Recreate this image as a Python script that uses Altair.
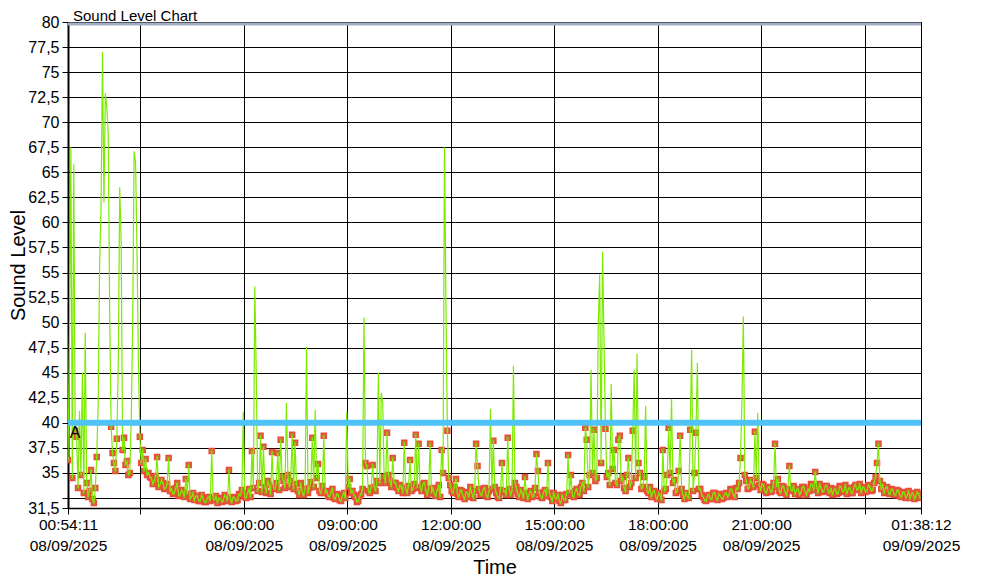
import pandas as pd
import altair as alt

# Sound level readings, one every 2.5 minutes from 08/09/2025 00:54:11
start_time = "2025-09-08 00:54:11"
sample_seconds = 150
levels = [
    36.3, 48.0, 67.5, 34.5, 65.8, 39.2, 38.6, 33.5, 41.2, 34.8, 45.0, 33.0, 49.0, 34.0, 32.6, 33.2, 35.3, 32.4, 32.0, 33.5, 36.6, 42.0, 55.8, 61.5,
    77.0, 62.0, 72.9, 71.5, 68.9, 51.0, 39.6, 37.0, 36.0, 35.2, 38.4, 46.0, 63.5, 58.0, 37.3, 38.5, 35.8, 36.2, 34.8, 35.0, 40.2, 49.7, 67.1, 66.0,
    57.5, 46.0, 38.6, 36.0, 37.3, 35.2, 36.4, 34.8, 35.0, 34.6, 34.5, 33.9, 34.2, 34.7, 36.6, 33.6, 33.8, 34.3, 34.0, 33.4, 33.5, 33.9, 36.5, 33.2,
    33.4, 32.9, 33.0, 33.5, 34.0, 32.7, 32.8, 33.3, 33.1, 32.6, 34.4, 32.9, 35.8, 32.4, 32.6, 33.0, 32.3, 32.7, 32.7, 32.2, 32.2, 32.8, 32.5, 32.1,
    32.1, 32.5, 32.6, 32.2, 37.2, 32.4, 32.3, 32.7, 32.0, 32.5, 32.4, 32.1, 32.2, 32.8, 32.6, 32.2, 35.3, 32.4, 32.1, 32.6, 32.5, 32.2, 32.3, 32.9,
    32.8, 33.3, 41.1, 32.6, 32.5, 33.0, 33.4, 32.6, 37.2, 33.5, 53.6, 45.0, 33.2, 34.0, 38.7, 33.1, 37.6, 33.6, 33.0, 34.2, 33.8, 32.9, 37.1, 33.5,
    33.4, 34.0, 37.0, 33.3, 38.3, 34.6, 34.2, 33.5, 42.0, 34.8, 33.6, 34.2, 38.8, 33.4, 38.0, 33.9, 33.2, 32.8, 34.0, 33.1, 32.8, 33.4, 47.6, 33.0,
    33.5, 34.1, 38.5, 33.6, 41.3, 34.5, 35.9, 33.2, 33.0, 33.7, 38.7, 33.0, 33.2, 32.7, 32.6, 33.1, 33.4, 32.5, 32.4, 32.9, 32.8, 32.3, 32.2, 32.7,
    33.0, 32.5, 41.1, 33.6, 34.4, 33.0, 33.2, 32.8, 32.6, 32.1, 32.2, 32.7, 32.9, 33.4, 50.5, 36.0, 35.7, 33.2, 33.0, 33.5, 35.8, 33.6, 33.2, 34.2,
    45.0, 34.0, 43.0, 42.0, 34.6, 34.0, 39.0, 34.8, 34.2, 33.6, 36.5, 34.0, 34.0, 33.5, 33.2, 33.8, 33.6, 33.0, 38.0, 33.4, 33.0, 33.7, 36.3, 33.2,
    33.4, 33.9, 38.8, 33.5, 37.9, 33.6, 33.2, 33.9, 34.0, 33.3, 32.8, 33.4, 37.9, 33.0, 33.5, 32.9, 32.7, 33.3, 33.8, 32.6, 37.3, 35.0, 67.5, 52.0,
    39.2, 34.5, 33.8, 33.2, 33.0, 33.6, 34.4, 32.9, 32.6, 33.3, 33.2, 32.7, 32.4, 33.1, 33.0, 32.6, 33.6, 33.0, 32.5, 33.2, 37.9, 35.7, 33.4, 32.8,
    32.8, 33.4, 33.5, 32.7, 32.6, 33.2, 41.4, 33.4, 38.2, 33.6, 33.0, 32.6, 32.5, 33.3, 36.0, 33.1, 33.2, 32.8, 38.5, 33.4, 32.8, 33.2, 45.7, 34.0,
    33.6, 32.9, 32.6, 33.3, 33.0, 32.5, 34.6, 33.0, 32.4, 32.9, 33.2, 32.6, 32.7, 33.5, 36.9, 35.2, 33.0, 32.6, 32.5, 33.1, 33.3, 32.7, 36.0, 33.0,
    32.6, 32.2, 33.0, 32.5, 32.4, 32.8, 32.2, 32.0, 32.8, 32.3, 32.3, 32.9, 36.8, 33.0, 34.8, 32.7, 32.6, 33.2, 33.4, 32.8, 32.8, 33.6, 34.0, 33.2,
    39.5, 38.3, 33.6, 34.8, 45.3, 35.0, 39.3, 34.2, 34.5, 49.8, 54.8, 36.0, 57.1, 48.3, 39.4, 34.6, 35.0, 33.8, 43.9, 35.4, 37.3, 34.0, 33.8, 38.3,
    38.7, 34.2, 34.6, 33.5, 33.2, 34.8, 36.5, 33.6, 34.0, 39.2, 45.3, 34.5, 46.9, 36.0, 35.0, 33.4, 33.6, 34.6, 41.7, 33.2, 33.0, 33.6, 32.6, 33.1,
    33.2, 32.6, 32.4, 33.0, 32.8, 32.3, 37.3, 33.2, 33.4, 34.8, 39.5, 35.0, 42.4, 34.0, 34.3, 33.0, 33.2, 35.2, 38.7, 33.4, 32.8, 32.4, 33.0, 32.6,
    32.5, 39.3, 47.3, 33.2, 35.0, 39.0, 46.0, 33.4, 33.4, 32.8, 32.6, 32.3, 32.2, 32.7, 32.8, 32.4, 32.4, 33.0, 33.0, 32.5, 32.3, 32.9, 32.7, 32.4,
    32.5, 32.9, 33.0, 32.6, 32.8, 33.4, 33.3, 32.8, 32.6, 33.5, 33.4, 34.0, 36.5, 42.2, 50.6, 34.8, 34.2, 33.4, 33.5, 34.3, 34.0, 33.6, 39.1, 34.5,
    41.0, 33.8, 33.3, 33.9, 33.8, 33.2, 33.0, 33.5, 33.6, 33.1, 33.2, 34.0, 37.9, 33.6, 34.4, 33.2, 33.0, 33.7, 33.6, 33.1, 32.8, 33.4, 35.7, 33.3,
    33.2, 33.7, 32.9, 33.3, 33.4, 32.8, 33.0, 33.6, 33.6, 33.1, 32.8, 33.4, 33.2, 33.9, 33.8, 33.3, 35.1, 33.6, 33.0, 33.9, 33.5, 33.1, 33.2, 33.7,
    33.7, 33.2, 33.0, 33.5, 32.8, 33.3, 33.4, 32.9, 33.0, 33.7, 33.6, 33.1, 33.2, 33.8, 32.9, 33.4, 33.5, 33.0, 33.0, 33.6, 33.8, 33.3, 33.4, 33.9,
    33.0, 33.6, 33.5, 33.1, 33.2, 33.8, 33.6, 33.2, 33.3, 34.0, 34.6, 36.0, 37.9, 34.2, 33.4, 33.8, 33.0, 33.5, 33.6, 33.0, 32.9, 33.4, 33.3, 32.8,
    32.8, 33.3, 33.2, 32.7, 32.6, 33.1, 33.0, 32.5, 32.7, 33.2, 32.5, 32.9, 33.0, 32.4, 32.6, 33.1, 32.9, 32.5,
]
threshold = [40]
annotation = ["A"]
chart_title = "Sound Level Chart"

y_ticks = [31.5, 32.5, 35, 37.5, 40, 42.5, 45, 47.5, 50, 52.5, 55, 57.5,
           60, 62.5, 65, 67.5, 70, 72.5, 75, 77.5, 80]
# (year, month, day, hour, minute, second) of x ticks
x_ticks = [
    (2025, 9, 8, 0, 54, 11), (2025, 9, 8, 3, 0, 0), (2025, 9, 8, 6, 0, 0),
    (2025, 9, 8, 9, 0, 0), (2025, 9, 8, 12, 0, 0), (2025, 9, 8, 15, 0, 0),
    (2025, 9, 8, 18, 0, 0), (2025, 9, 8, 21, 0, 0), (2025, 9, 9, 0, 0, 0),
    (2025, 9, 9, 1, 38, 12),
]


def dt(t):
    return alt.DateTime(year=t[0], month=t[1], date=t[2], hours=t[3],
                        minutes=t[4], seconds=t[5])


times = pd.date_range(start_time, periods=len(levels), freq=f"{sample_seconds}s")
df = pd.DataFrame({"time": times, "level": levels})
one = pd.DataFrame({"v": [0]})

FONT = "Liberation Sans"

x_label_expr = (
    "(hours(datum.value) == 3 && minutes(datum.value) == 0) || "
    "(hours(datum.value) == 0 && minutes(datum.value) == 0) ? '' : "
    "[timeFormat(datum.value, '%H:%M:%S'), timeFormat(datum.value, '%d/%m/%Y')]"
)
y_label_expr = "datum.value == 32.5 ? '' : replace(format(datum.value, '.1~f'), '.', ',')"

x_enc = alt.X(
    "time:T",
    scale=alt.Scale(domain=[dt(x_ticks[0]), dt(x_ticks[-1])]),
    axis=alt.Axis(
        values=[dt(t) for t in x_ticks],
        tickCount=40,
        labelExpr=x_label_expr,
        labelFlush=False,
        labelOverlap=False,
        labelFontSize=15.5,
        labelLineHeight=21,
        labelPadding=3,
        tickSize=6,
        title="Time",
        titleFontSize=20,
        titleFontWeight="normal",
        titleY=59,
        titleBaseline="middle",
        domainWidth=1.5,
        grid=True,
    ),
)
y_enc = alt.Y(
    "level:Q",
    scale=alt.Scale(domain=[31.5, 80], nice=False, zero=False),
    axis=alt.Axis(
        values=y_ticks,
        tickCount=60,
        labelExpr=y_label_expr,
        labelOverlap=False,
        labelFontSize=16,
        labelPadding=3,
        tickSize=6,
        title="Sound Level",
        titleFontSize=20,
        titleFontWeight="normal",
        titleX=-50,
        titleY=243,
        titleAngle=-90,
        titleAlign="center",
        titleBaseline="middle",
        domainWidth=2,
        grid=True,
    ),
)

markers = alt.Chart(df).transform_filter("datum.level <= 40").mark_square(
    size=25, fill="#B08A2C", stroke="#EE4A3A", strokeWidth=1.5, opacity=1, clip=True
).encode(x=x_enc, y=y_enc)

line = alt.Chart(df).mark_line(color="#7CEB00", strokeWidth=1.2, clip=True).encode(
    x=alt.X("time:T"), y=alt.Y("level:Q")
)

thr_df = pd.DataFrame({"level": threshold})
thr = alt.Chart(thr_df).mark_rule(color="#4FC3F7", strokeWidth=6).encode(
    y=alt.Y("level:Q")
)

top_band = alt.Chart(one).mark_rule(color="#A3ADC3", strokeWidth=3, yOffset=2).encode(
    y=alt.datum(80)
)

ann = alt.Chart(pd.DataFrame({"t": annotation})).mark_text(
    fontSize=16, align="center", baseline="middle", font=FONT, color="black"
).encode(x=alt.value(7), y=alt.datum(39), text="t:N")

title = alt.Chart(pd.DataFrame({"t": [chart_title]})).mark_text(
    fontSize=15, align="left", baseline="alphabetic", font=FONT, color="black"
).encode(x=alt.value(5), y=alt.value(-1), text="t:N")

chart = alt.layer(markers, line, thr, top_band, ann, title).properties(
    width=853,
    height=486,
    autosize=alt.AutoSizeParams(type="none"),
    padding={"left": 60, "top": 14, "right": 50, "bottom": 70},
).configure(font=FONT).configure_view(
    stroke="black", strokeWidth=1
).configure_axis(
    gridColor="black", gridOpacity=1, gridWidth=1,
    domainColor="black", tickColor="black", labelColor="black",
    titleColor="black", labelFont=FONT, titleFont=FONT,
)

chart.save("out.html", embed_options={"renderer": "svg", "actions": False})
